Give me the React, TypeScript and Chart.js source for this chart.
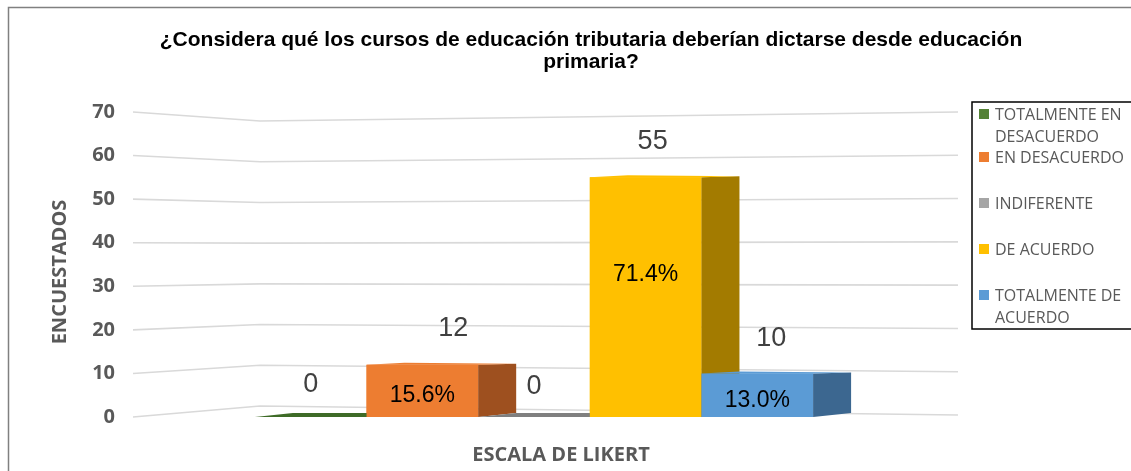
import React, { useEffect, useRef } from "react";
import { Chart, registerables } from "chart.js";

Chart.register(...registerables);

// ---------- data ----------
const categories = [""];
const seriesNames = [
  "TOTALMENTE EN DESACUERDO",
  "EN DESACUERDO",
  "INDIFERENTE",
  "DE ACUERDO",
  "TOTALMENTE DE ACUERDO",
];
const counts = [0, 12, 0, 55, 10];
const percents = [0, 15.6, 0, 71.4, 13.0];
const yMin = 0;
const yMax = 70;
const yStep = 10;

const titleLines = [
  "¿Considera qué los cursos de educación tributaria deberían dictarse desde educación",
  "primaria?",
];
const yTitle = "ENCUESTADOS";
const xTitle = "ESCALA DE LIKERT";

// ---------- styles ----------
const frontColors = ["#548235", "#ED7D31", "#A5A5A5", "#FFC000", "#5B9BD5"];
const sideColors = ["#3E6B27", "#9E501F", "#7F7F7F", "#A37B00", "#3C6790"];
const VALUE_DX = [0, 31, 0, 7, 14];
const VALUE_DY = [-32, -36, -30, -36, -35];
const PCT_DY = [0, 5, 0, -23, 5];
const DEPTH = 38;

function drawFaces(ctx: any, el: any, i: number) {
  const { x, y, base, width } = el.getProps(["x", "y", "base", "width"], true);
  const l = x - width / 2;
  const r = x + width / 2;
  const hgt = base - y;
  if (hgt > 1) {
    ctx.fillStyle = sideColors[i];
    ctx.beginPath();
    ctx.moveTo(r, y);
    ctx.lineTo(r + DEPTH, y - 1);
    ctx.lineTo(r + DEPTH, base - 4);
    ctx.lineTo(r, base);
    ctx.closePath();
    ctx.fill();
    ctx.fillStyle = frontColors[i];
    ctx.beginPath();
    ctx.moveTo(l, y);
    ctx.lineTo(r, y);
    ctx.lineTo(r + DEPTH, y - 1);
    ctx.lineTo(l + DEPTH, y - 2);
    ctx.closePath();
    ctx.fill();
  } else {
    ctx.fillStyle = sideColors[i];
    ctx.beginPath();
    ctx.moveTo(l, base);
    ctx.lineTo(r, base);
    ctx.lineTo(r + DEPTH, base - 4);
    ctx.lineTo(l + DEPTH, base - 4);
    ctx.closePath();
    ctx.fill();
  }
}

const threeD = {
  id: "threeD",
  beforeDatasetsDraw(chart: any) {
    const { ctx, chartArea } = chart;
    const ys = chart.scales.y;
    const { left, right, top, bottom } = chartArea;
    const h = bottom - top;
    const wallX = left + 127;
    const wallBottom = bottom - 11;
    const wallTop = top + 9;
    const rX = right + 23;
    const rBottom = bottom - 2;
    const rTop = top;
    ctx.save();
    ctx.strokeStyle = "#D9D9D9";
    ctx.lineWidth = 1.6;
    ys.ticks.forEach((t: any) => {
      const py = ys.getPixelForValue(t.value);
      const f = (bottom - py) / h;
      ctx.beginPath();
      ctx.moveTo(left, py);
      ctx.lineTo(wallX, wallBottom - f * (wallBottom - wallTop));
      ctx.lineTo(rX, rBottom - f * (rBottom - rTop));
      ctx.stroke();
    });
    ctx.restore();
  },
  afterDatasetsDraw(chart: any) {
    const { ctx } = chart;
    ctx.save();
    chart.data.datasets.forEach((ds: any, i: number) => {
      const meta = chart.getDatasetMeta(i);
      meta.data.forEach((el: any) => {
        el.draw(ctx, chart.chartArea);
        drawFaces(ctx, el, i);
      });
    });
    ctx.restore();
  },
  afterDraw(chart: any) {
    const { ctx } = chart;
    ctx.save();
    // labels
    chart.data.datasets.forEach((ds: any, i: number) => {
      const meta = chart.getDatasetMeta(i);
      meta.data.forEach((el: any) => {
        const { x, y, base } = el.getProps(["x", "y", "base"], true);
        ctx.textAlign = "center";
        ctx.textBaseline = "middle";
        ctx.fillStyle = "#404040";
        ctx.font = "27px 'Liberation Sans', Arial, sans-serif";
        ctx.fillText(String(counts[i]), x + VALUE_DX[i], y + VALUE_DY[i]);
        if (percents[i] > 0) {
          ctx.fillStyle = "#000000";
          ctx.font = "23px 'Liberation Sans', Arial, sans-serif";
          ctx.fillText(percents[i].toFixed(1) + "%", x, (y + base) / 2 + PCT_DY[i]);
        }
      });
    });
    // main title
    ctx.fillStyle = "#000000";
    ctx.font = "bold 21px 'Liberation Sans', Arial, sans-serif";
    ctx.textAlign = "center";
    ctx.textBaseline = "middle";
    titleLines.forEach((t, k) => ctx.fillText(t, 591, 40 + k * 22));
    // axis titles
    ctx.fillStyle = "#595959";
    ctx.font = "bold 20px 'Open Sans', sans-serif";
    ctx.fillText(xTitle, 561, 455);
    ctx.save();
    ctx.translate(60, 272);
    ctx.rotate(-Math.PI / 2);
    ctx.fillText(yTitle, 0, 0);
    ctx.restore();
    // legend
    const lx = 972;
    const ly = 102;
    ctx.strokeStyle = "#000000";
    ctx.lineWidth = 1.5;
    ctx.strokeRect(lx, ly, 180, 227);
    ctx.font = "16px 'Open Sans', sans-serif";
    ctx.textAlign = "left";
    ctx.textBaseline = "alphabetic";
    seriesNames.forEach((name, i) => {
      const words = name.split(" ");
      const lines: string[] = [];
      let cur = "";
      words.forEach((w) => {
        const test = cur ? cur + " " + w : w;
        if (cur && ctx.measureText(test).width > 134) {
          lines.push(cur);
          cur = w;
        } else cur = test;
      });
      if (cur) lines.push(cur);
      const baseY = i === 0 ? 120 : 163 + (i - 1) * 46;
      ctx.fillStyle = frontColors[i];
      ctx.fillRect(979, baseY - 11, 10, 10);
      ctx.fillStyle = "#595959";
      lines.forEach((ln, k) => ctx.fillText(ln, 995, baseY + k * 22));
    });
    // frame
    ctx.strokeStyle = "#808080";
    ctx.lineWidth = 1.5;
    ctx.beginPath();
    ctx.moveTo(8.5, 480);
    ctx.lineTo(8.5, 7.5);
    ctx.lineTo(1140, 7.5);
    ctx.stroke();
    ctx.restore();
  },
};

export default function App() {
  const ref = useRef<HTMLCanvasElement | null>(null);
  useEffect(() => {
    if (!ref.current) return;
    const chart = new Chart(ref.current, {
      type: "bar",
      data: {
        labels: categories,
        datasets: seriesNames.map((name, i) => ({
          label: name,
          data: [counts[i]],
          backgroundColor: frontColors[i],
          borderWidth: 0,
          barPercentage: 1,
          categoryPercentage: 0.696,
        })),
      },
      options: {
        animation: false,
        responsive: true,
        maintainAspectRatio: false,
        layout: { padding: { left: 0, top: 112, right: 196, bottom: 54 } },
        plugins: {
          legend: { display: false },
          title: { display: false },
          tooltip: { enabled: false },
        },
        scales: {
          x: { display: false },
          y: {
            min: yMin,
            max: yMax,
            ticks: {
              stepSize: yStep,
              padding: 18,
              color: "#595959",
              font: { family: "'Open Sans', sans-serif", size: 20, weight: "bold" },
            },
            grid: { display: false, drawTicks: false },
            border: { display: false },
            afterFit: (s: any) => {
              s.width = 133;
            },
          },
        },
      },
      plugins: [threeD],
    });
    return () => chart.destroy();
  }, []);
  return (
    <div style={{ position: "fixed", left: 0, top: 0, width: 1131, height: 471, background: "#fff" }}>
      <canvas ref={ref} />
    </div>
  );
}
